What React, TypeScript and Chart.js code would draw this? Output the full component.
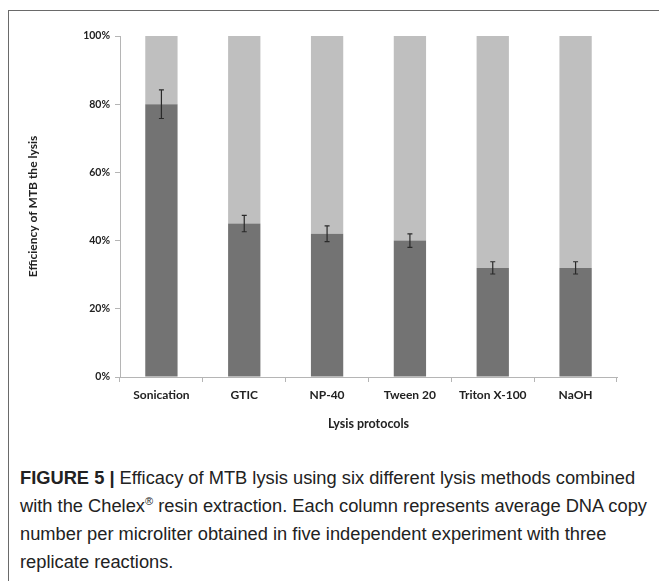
import React, { useEffect, useRef } from "react";
import { Chart, registerables } from "chart.js";

Chart.register(...registerables);

const categories = ["Sonication", "GTIC", "NP-40", "Tween 20", "Triton X-100", "NaOH"];
const efficiency = [80, 45, 42, 40, 32, 32];
const remainder = [20, 55, 58, 60, 68, 68];
const errors = [4.2, 2.4, 2.3, 2.0, 1.8, 1.8];
const yTicks = [0, 20, 40, 60, 80, 100];

const FONT = "Lato, 'Open Sans', sans-serif";

const errorBarPlugin = {
  id: "errorBars",
  afterDatasetsDraw(chart: any) {
    const meta = chart.getDatasetMeta(0);
    const y = chart.scales.y;
    const ctx = chart.ctx;
    ctx.save();
    ctx.strokeStyle = "#2a2a2a";
    ctx.lineWidth = 1.2;
    meta.data.forEach((bar: any, i: number) => {
      const x = bar.x;
      const top = y.getPixelForValue(efficiency[i] + errors[i]);
      const bot = y.getPixelForValue(efficiency[i] - errors[i]);
      ctx.beginPath();
      ctx.moveTo(x, top);
      ctx.lineTo(x, bot);
      ctx.moveTo(x - 2.5, top);
      ctx.lineTo(x + 2.5, top);
      ctx.moveTo(x - 2.5, bot);
      ctx.lineTo(x + 2.5, bot);
      ctx.stroke();
    });
    ctx.restore();
  },
};

function ChartCanvas() {
  const ref = useRef<HTMLCanvasElement | null>(null);
  useEffect(() => {
    if (!ref.current) return;
    const chart = new Chart(ref.current, {
      type: "bar",
      data: {
        labels: categories,
        datasets: [
          {
            data: efficiency,
            backgroundColor: "#737373",
            borderWidth: 0,
            categoryPercentage: 1,
            barPercentage: 0.39,
          },
          {
            data: remainder,
            backgroundColor: "#bfbfbf",
            borderWidth: 0,
            categoryPercentage: 1,
            barPercentage: 0.39,
          },
        ],
      },
      options: {
        animation: false,
        responsive: false,
        devicePixelRatio: 1,
        layout: { padding: { left: 22, right: 42, top: 36, bottom: 5 } },
        plugins: { legend: { display: false }, tooltip: { enabled: false } },
        scales: {
          x: {
            stacked: true,
            afterFit: (s: any) => {
              s.height = 58;
            },
            grid: {
              drawOnChartArea: false,
              drawTicks: true,
              tickLength: 5,
              color: "#b5b5b5",
            },
            border: { color: "#b5b5b5", width: 1 },
            ticks: {
              color: "#222",
              padding: 6,
              font: { family: FONT, size: 12, weight: "bold" },
              maxRotation: 0,
              autoSkip: false,
            },
            title: {
              display: true,
              text: "Lysis protocols",
              color: "#222",
              font: { family: FONT, size: 12.5, weight: "bold" },
              padding: { top: 0, bottom: 4 },
            },
          },
          y: {
            stacked: true,
            min: 0,
            max: 100,
            afterFit: (s: any) => {
              s.width = 98;
            },
            afterBuildTicks: (s: any) => {
              s.ticks = yTicks.map((v) => ({ value: v }));
            },
            grid: {
              drawOnChartArea: false,
              drawTicks: true,
              tickLength: 5,
              color: "#b5b5b5",
            },
            border: { color: "#b5b5b5", width: 1 },
            ticks: {
              color: "#222",
              padding: 5,
              font: { family: FONT, size: 10.5, weight: "bold" },
              callback: (v: any) => v + "%",
            },
            title: {
              display: true,
              text: "Efficiency of MTB the lysis",
              color: "#222",
              font: { family: FONT, size: 12, weight: "bold" },
              padding: { top: 4, bottom: 4 },
            },
          },
        },
      },
      plugins: [errorBarPlugin],
    });
    return () => chart.destroy();
  }, []);
  return (
    <canvas
      ref={ref}
      width={659}
      height={440}
      style={{ position: "absolute", left: 0, top: 0, width: 659, height: 440 }}
    />
  );
}

const lineStyle: React.CSSProperties = { whiteSpace: "nowrap", height: 28 };

export default function App() {
  return (
    <div
      style={{
        position: "absolute",
        left: 0,
        top: 0,
        width: 659,
        height: 581,
        background: "#fff",
        overflow: "hidden",
      }}
    >
      <div
        style={{
          position: "absolute",
          left: 8,
          top: 10,
          width: 651,
          height: 0,
          borderTop: "1.5px solid #6a6a6a",
        }}
      />
      <div
        style={{
          position: "absolute",
          left: 8,
          top: 10,
          width: 0,
          height: 571,
          borderLeft: "1.5px solid #6a6a6a",
        }}
      />
      <ChartCanvas />
      <div
        style={{
          position: "absolute",
          left: 20,
          top: 464,
          width: 636,
          fontFamily: "'Liberation Sans', Arial, sans-serif",
          fontSize: 18.3,
          lineHeight: "28px",
          color: "#222",
          letterSpacing: 0,
        }}
      >
        <div style={lineStyle}>
          <b>FIGURE 5 |</b> Efficacy of MTB lysis using six different lysis methods combined
        </div>
        <div style={lineStyle}>
          with the Chelex
          <span style={{ fontSize: 11, verticalAlign: "7px", lineHeight: 0 }}>®</span> resin
          extraction. Each column represents average DNA copy
        </div>
        <div style={lineStyle}>
          number per microliter obtained in five independent experiment with three
        </div>
        <div style={lineStyle}>replicate reactions.</div>
      </div>
    </div>
  );
}
